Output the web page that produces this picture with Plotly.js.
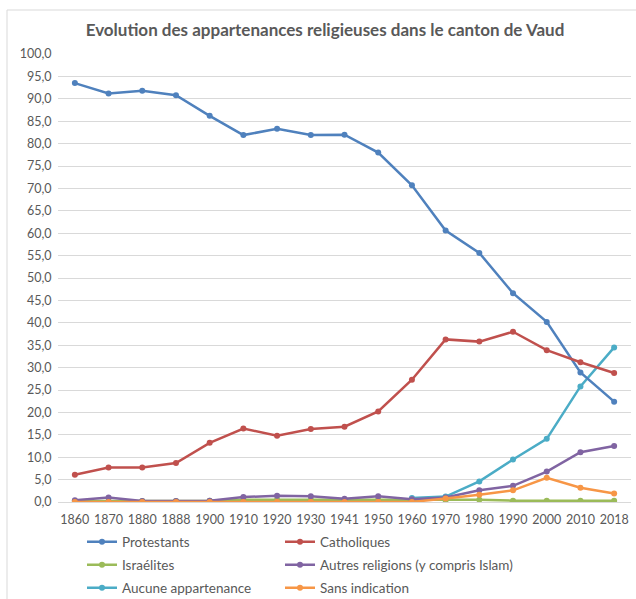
<!DOCTYPE html>
<html>
<head>
<meta charset="utf-8">
<script src="https://cdn.plot.ly/plotly-3.0.1.min.js"></script>
<style>html,body{margin:0;padding:0;background:#fff;}#chart{width:636px;height:599px;}</style>
</head>
<body>
<div id="chart"></div>
<script>
const years = ["1860","1870","1880","1888","1900","1910","1920","1930","1941","1950","1960","1970","1980","1990","2000","2010","2018"];
const protestants = [93.5,91.2,91.8,90.8,86.2,81.9,83.3,81.9,82.0,78.0,70.7,60.6,55.6,46.6,40.2,28.9,22.4];
const catholiques = [6.1,7.7,7.7,8.7,13.2,16.4,14.8,16.3,16.8,20.2,27.3,36.3,35.8,38.0,33.9,31.2,28.8];
const israelites = [0.2,0.2,0.2,0.2,0.3,0.5,0.5,0.5,0.4,0.5,0.4,0.4,0.5,0.3,0.3,0.3,0.3];
const autres = [0.4,1.0,0.2,0.2,0.3,1.1,1.4,1.3,0.7,1.3,0.6,1.0,2.6,3.6,6.8,11.1,12.5];
const aucune = [null,null,null,null,null,null,null,null,null,null,0.9,1.2,4.6,9.5,14.1,25.8,34.5];
const sansIndication = [0,0,0,0,0,0,0,0,0,0,0,0.8,1.6,2.6,5.4,3.2,1.9];
const yTicks = [0,5,10,15,20,25,30,35,40,45,50,55,60,65,70,75,80,85,90,95,100];

const series = [
  {name:"Protestants", y:protestants, color:"#4F81BD"},
  {name:"Catholiques", y:catholiques, color:"#C0504D"},
  {name:"Israélites", y:israelites, color:"#9BBB59"},
  {name:"Autres religions (y compris Islam)", y:autres, color:"#8064A2"},
  {name:"Aucune appartenance", y:aucune, color:"#4BACC6"},
  {name:"Sans indication", y:sansIndication, color:"#F79646"}
];
const legendIds = ["legend","legend2","legend3","legend4","legend5","legend6"];
const drawOrder = [4,0,1,2,3,5];
const traces = drawOrder.map(i => {
  const s = series[i];
  return {
    type:"scatter", mode:"lines+markers", name:s.name, x:years, y:s.y,
    line:{color:s.color, width:2.5}, marker:{color:s.color, size:6},
    legend:legendIds[i], connectgaps:false, hoverinfo:"x+y+name"
  };
});

const F = "Lato, 'Open Sans', sans-serif";
const colX = [(82-58)/573, (280-58)/573];
const rowY = [(502-542)/448, (502-565)/448, (502-588)/448];
const legBase = (x, y) => ({
  orientation:"h", x:x, xanchor:"left", y:y, yanchor:"middle",
  font:{family:F, size:13.5, color:"#595959"}, bgcolor:"rgba(0,0,0,0)", borderwidth:0
});

const layout = {
  width:636, height:599,
  margin:{l:58, r:5, t:54, b:97, autoexpand:false},
  paper_bgcolor:"#fff", plot_bgcolor:"#fff",
  separators:", ",
  font:{family:F, color:"#595959"},
  title:{text:"Evolution des appartenances religieuses dans le canton de Vaud",
    font:{family:F, size:17, color:"#595959", weight:"bold"},
    x:325/636, xanchor:"center", xref:"container", y:1-30/599, yanchor:"middle", yref:"container"},
  xaxis:{type:"category", categoryorder:"array", categoryarray:years, range:[-0.5,16.5],
    showgrid:false, showline:false, zeroline:false, ticks:"outside", ticklen:6, tickcolor:"rgba(0,0,0,0)",
    tickfont:{family:F, size:12.5, color:"#595959"}, fixedrange:true},
  yaxis:{range:[0,100], tickvals:yTicks, tickformat:".1f", showgrid:true, gridcolor:"#D9D9D9", gridwidth:1,
    zeroline:true, zerolinecolor:"#D9D9D9", zerolinewidth:1, showline:false, ticks:"outside", ticklen:3, tickcolor:"rgba(0,0,0,0)",
    tickfont:{family:F, size:12.5, color:"#595959"}, fixedrange:true},
  showlegend:true,
  shapes:[{type:"rect", xref:"paper", yref:"paper", x0:(7-58)/573, x1:(640-58)/573, y0:-0.3, y1:(502-10)/448,
    line:{color:"#D9D9D9", width:1}, fillcolor:"rgba(0,0,0,0)", layer:"below"}]
};
legendIds.forEach((id, i) => {
  layout[id] = legBase(colX[i % 2], rowY[Math.floor(i / 2)]);
});

Plotly.newPlot("chart", traces, layout, {displayModeBar:false, staticPlot:true});
</script>
</body>
</html>
